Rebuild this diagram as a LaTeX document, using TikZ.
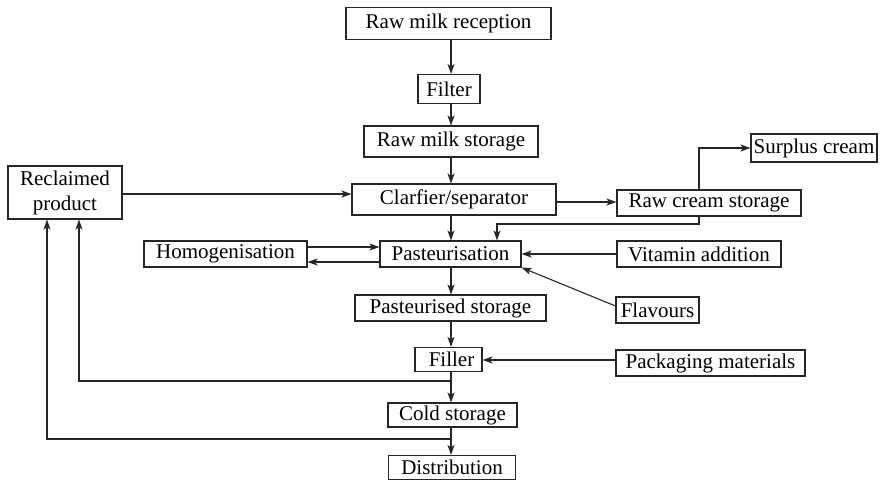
\documentclass[tikz,border=0pt]{standalone}
\usepackage{fontspec}
\setmainfont{Liberation Serif}
\usetikzlibrary{arrows.meta}
\begin{document}
\begin{tikzpicture}[x=1pt,y=-1pt,
  box/.style={draw=black!85,line width=1.1pt,inner sep=0pt,minimum height=26pt,
    font=\fontsize{21}{25}\selectfont,anchor=center,align=center},
  arr/.style={draw=black!85,line width=1.1pt,-{Stealth[length=10pt,width=7pt,inset=2.5pt]}}]
\useasboundingbox (0,0) rectangle (881,480);
% nodes
\node[box,minimum width=205pt,minimum height=32pt] (rec) at (448.5,23.5) {Raw milk reception};
\node[box,minimum width=62pt,minimum height=29pt] (filter) at (449,89) {Filter};
\node[box,minimum width=174pt,minimum height=31pt] (rms) at (451,141.5) {Raw milk storage};
\node[box,minimum width=114pt,minimum height=53pt] (recl) at (65,192.5) {Reclaimed\\product};
\node[box,minimum width=204pt,minimum height=31pt] (clar) at (454,199.5) {Clarfier/separator};
\node[box,minimum width=184pt] (rcs) at (709,203) {Raw cream storage};
\node[box,minimum width=126pt,minimum height=28pt] (surplus) at (814,148) {Surplus cream};
\node[box,minimum width=163pt] (homog) at (225.5,254) {Homogenisation};
\node[box,minimum width=141pt] (past) at (450.5,254) {Pasteurisation};
\node[box,minimum width=164pt] (vit) at (699,254) {Vitamin addition};
\node[box,minimum width=83pt] (flav) at (657.5,310) {Flavours};
\node[box,minimum width=191pt] (pst) at (450.5,308) {Pasteurised storage};
\node[box,minimum width=67pt,minimum height=24pt] (filler) at (448.5,359.5) {\hspace{6pt}Filler};
\node[box,minimum width=189pt] (pack) at (710.5,363) {Packaging materials};
\node[box,minimum width=129pt,minimum height=24pt] (cold) at (452.5,415) {Cold storage};
\node[box,minimum width=127pt,minimum height=24pt] (dist) at (452,467.5) {Distribution};
% helper coordinates
\coordinate (ax) at (451,0);
\coordinate (y1) at (0,194);
\coordinate (y2) at (0,202);
\coordinate (cx) at (699,0);
\coordinate (cd) at (699,224);
\coordinate (px) at (497,0);
\coordinate (ya) at (0,247);
\coordinate (yb) at (0,262);
\coordinate (fy) at (0,306);
\coordinate (yp) at (0,360);
\coordinate (b1) at (451,381);
\coordinate (b2) at (451,439);
\coordinate (r1) at (79,0);
\coordinate (r2) at (47,0);
% connectors
\draw[arr] (rec.south -| ax) -- (filter.north -| ax);
\draw[arr] (filter.south -| ax) -- (rms.north -| ax);
\draw[arr] (rms.south -| ax) -- (clar.north -| ax);
\draw[arr] (recl.east |- y1) -- (clar.west |- y1);
\draw[arr] (clar.east |- y2) -- (rcs.west |- y2);
\draw[arr] (rcs.north -| cx) |- (surplus.west);
\draw[arr] (rcs.south -| cx) -- (cd) -| (past.north -| px);
\draw[arr] (clar.south -| ax) -- (past.north -| ax);
\draw[arr] (homog.east |- ya) -- (past.west |- ya);
\draw[arr] (past.west |- yb) -- (homog.east |- yb);
\draw[arr] (vit.west) -- (past.east);
\draw[arr] (flav.west |- fy) -- (past.south east);
\draw[arr] (past.south -| ax) -- (pst.north -| ax);
\draw[arr] (pst.south -| ax) -- (filler.north -| ax);
\draw[arr] (pack.west |- yp) -- (filler.east |- yp);
\draw[arr] (filler.south -| ax) -- (cold.north -| ax);
\draw[arr] (cold.south -| ax) -- (dist.north -| ax);
\draw[arr] (b1) -| (recl.south -| r1);
\draw[arr] (b2) -| (recl.south -| r2);
\end{tikzpicture}
\end{document}
